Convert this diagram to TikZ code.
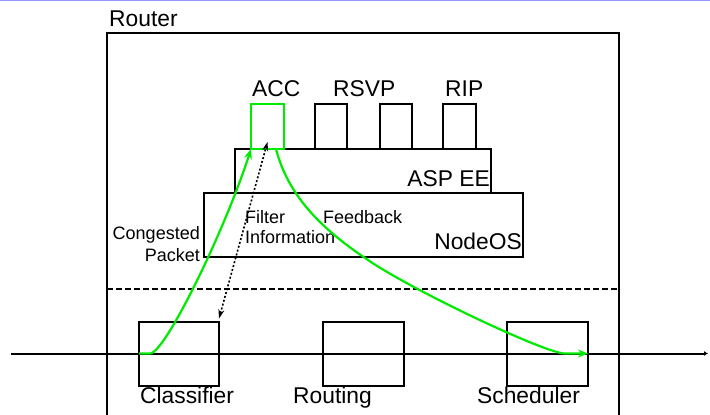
\documentclass[tikz,border=0pt]{standalone}
\usepackage{fontspec}
\setmainfont{Liberation Sans}
\usetikzlibrary{arrows.meta}
\definecolor{accgreen}{RGB}{0,235,0}
\definecolor{topblue}{RGB}{150,150,255}
\tikzset{
  box/.style={draw=black, line width=2pt, inner sep=0pt, outer sep=0pt, fill=white},
  accbox/.style={draw=accgreen, line width=2pt, inner sep=0pt, outer sep=0pt},
  big/.style={inner sep=0pt, font=\fontsize{22.8}{26}\selectfont},
  small/.style={inner sep=0pt, font=\fontsize{18}{21}\selectfont},
  flow/.style={draw=accgreen, line width=2.2pt, -{Stealth[length=10pt,width=8pt]}},
  ctrl/.style={draw=black, line width=1.6pt, dash pattern=on 2pt off 2pt,
    {Stealth[length=9pt,width=6pt]}-{Stealth[length=9pt,width=6pt]}},
}
\begin{document}
\begin{tikzpicture}[x=1pt,y=-1pt]
\useasboundingbox (0,0) rectangle (710,415);
% top blue rule
\coordinate (tl) at (0,0.7);
\coordinate (tr) at (710,0.7);
\draw[topblue, line width=1.4pt] (tl) -- (tr);
% router frame
\coordinate (rbl) at (107,416);
\coordinate (rtl) at (107,33);
\coordinate (rtr) at (619,33);
\coordinate (rbr) at (619,416);
\draw[line width=2pt] (rbl) -- (rtl) -- (rtr) -- (rbr);
\node[big, anchor=base west] (routerlbl) at (109,26) {Router};
% dashed separator
\coordinate (dl) at (107,289);
\coordinate (dr) at (619,289);
\draw[line width=2pt, dash pattern=on 6pt off 3pt] (dl) -- (dr);
% software stack
\node[box, minimum width=319pt, minimum height=64pt] (nodeos) at (363.5,225) {};
\node[box, minimum width=256pt, minimum height=44pt] (asp) at (363,171) {};
\node[box, minimum width=32pt, minimum height=45pt] (rsvp1) at (331,126.5) {};
\node[box, minimum width=32pt, minimum height=45pt] (rsvp2) at (396,126.5) {};
\node[box, minimum width=33pt, minimum height=45pt] (rip) at (459.5,126.5) {};
\node[accbox, minimum width=33pt, minimum height=45pt] (acc) at (267.5,126.5) {};
\node[big, anchor=base west] (acclbl) at (252,96) {ACC};
\node[big, anchor=base west] (rsvplbl) at (333,96) {RSVP};
\node[big, anchor=base west] (riplbl) at (445,96) {RIP};
\node[big, anchor=base east] (asplbl) at (490,186) {ASP EE};
\node[big, anchor=base east] (noslbl) at (522,249) {NodeOS};
\node[small, anchor=base east] (cong1) at (200,239) {Congested};
\node[small, anchor=base east] (cong2) at (200,261) {Packet};
\node[small, anchor=base west] (filt1) at (245,223) {Filter};
\node[small, anchor=base west] (filt2) at (245,243) {Information};
\node[small, anchor=base west] (feed) at (323,223) {Feedback};
% data path boxes
\node[box, minimum width=80pt, minimum height=64pt] (cls) at (179,353.5) {};
\node[box, minimum width=81pt, minimum height=64pt] (rout) at (363.5,353.5) {};
\node[box, minimum width=81pt, minimum height=64pt] (sch) at (547.5,353.5) {};
\node[big, anchor=base west] (clslbl) at (140,403) {Classifier};
\node[big, anchor=base west] (routlbl) at (293,403) {Routing};
\node[big, anchor=base west] (schlbl) at (477,403) {Scheduler};
% packet line
\coordinate (lin) at (11,353.5);
\coordinate (lout) at (708,353.5);
\draw[line width=2pt, -{Latex[length=4pt,width=5pt]}] (lin) -- (lout);
% control (dotted) exchange
\draw[ctrl] ([yshift=3pt]cls.north east) -- ([yshift=7pt]acc.south);
% green flows
\draw[flow] (cls.west) -- ++(11,0) .. controls +(15,0) and (225,230) .. (acc.south west);
\coordinate (fbmid) at (368,260);
\draw[flow] ([xshift=-8pt]acc.south east) .. controls (288,195) and (320,228) .. (fbmid)
  .. controls (410,289) and (545,353.5) .. (565,353.5) -- (sch.east);
\end{tikzpicture}
\end{document}
